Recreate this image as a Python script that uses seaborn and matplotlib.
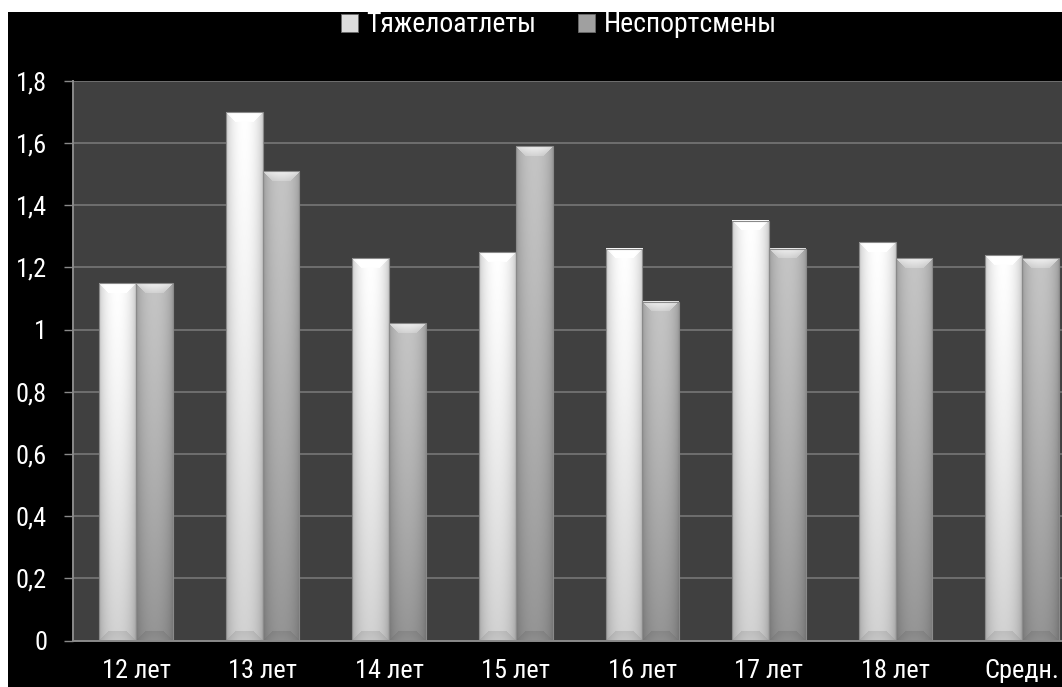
import numpy as np
import pandas as pd
import matplotlib
matplotlib.use("Agg")
import matplotlib.pyplot as plt
from matplotlib.patches import Rectangle
from matplotlib import font_manager
import seaborn as sns

# Chart data
ages = ["12 лет", "13 лет", "14 лет", "15 лет", "16 лет", "17 лет", "18 лет", "Средн."]
series_names = ["Тяжелоатлеты", "Неспортсмены"]
weightlifters = [1.15, 1.70, 1.23, 1.25, 1.26, 1.35, 1.28, 1.24]
non_athletes = [1.15, 1.51, 1.02, 1.59, 1.09, 1.26, 1.23, 1.23]
y_ticks = [0, 0.2, 0.4, 0.6, 0.8, 1.0, 1.2, 1.4, 1.6, 1.8]
y_tick_labels = ["0", "0,2", "0,4", "0,6", "0,8", "1", "1,2", "1,4", "1,6", "1,8"]

df = pd.DataFrame({
    "age": ages * 2,
    "value": weightlifters + non_athletes,
    "group": [series_names[0]] * len(ages) + [series_names[1]] * len(ages),
})

sns.set_theme(style="dark")
installed = {f.name for f in font_manager.fontManager.ttflist}
narrow = [n for n in ["Liberation Sans Narrow", "DejaVu Sans Condensed", "Roboto Condensed",
                      "Open Sans Condensed", "Liberation Sans"] if n in installed]
main_font = narrow[0] if narrow else "DejaVu Sans"
plt.rcParams["font.family"] = [main_font, "DejaVu Sans"]
is_narrow = main_font in ("Liberation Sans Narrow", "DejaVu Sans Condensed",
                          "Roboto Condensed", "Open Sans Condensed")
FS = 19 if is_narrow else 16.5
FS_LEG = 20 if is_narrow else 17

W_PX, H_PX, DPI = 1062, 687, 100
fig = plt.figure(figsize=(W_PX / DPI, H_PX / DPI), dpi=DPI)
fig.patch.set_facecolor("white")
# black canvas with a thin white margin on the top and left
fig.patches.append(Rectangle((8 / W_PX, 0), 1, 1 - 12 / H_PX,
                             transform=fig.transFigure, facecolor="black",
                             edgecolor="none", zorder=-10))

ax_left, ax_bottom = 72.7 / W_PX, 46.3 / H_PX
ax_w, ax_h = (8 * 126.6) / W_PX, (640.7 - 80.7) / H_PX
ax = fig.add_axes([ax_left, ax_bottom, ax_w, ax_h])
ax.set_facecolor("#404040")

# shading: (top value, bottom value) per series
shades = [(1.0, 0.82), (0.77, 0.58)]
legend_colors = ["#dcdcdc", "#a0a0a0"]

sns.barplot(data=df, x="age", y="value", hue="group", order=ages,
            hue_order=series_names, palette=legend_colors, saturation=1,
            width=0.58, ax=ax, legend=True)

ax.set_xlim(-0.5, len(ages) - 0.5)
ax.set_ylim(0, 1.8)


def bar_image(wp, hp, top_v, bot_v, bevel):
    j = np.arange(wp)
    i = np.arange(hp)
    xx = (j + 0.5) / wp
    profile = 0.74 + 0.26 * np.sin(np.pi * xx) ** 0.5
    t = (i / max(hp - 1, 1)) ** 1.3
    base = top_v * (1 - t) + bot_v * t
    img = base[:, None] * profile[None, :]
    jj, ii = np.meshgrid(j, i)
    side = np.minimum(jj, wp - 1 - jj)
    dt, db = ii, hp - 1 - ii
    top_mask = (dt < bevel) & (dt <= side)
    bot_mask = (db < bevel) & (db <= side) & ~top_mask
    lift = (1 - dt / bevel) * 0.25
    img = np.where(top_mask, np.clip(img + lift * (1.0 - img) * 2.0 + 0.05, 0, 1), img)
    img = np.where(bot_mask, img * 0.90 + 0.04 * (1 - db / bevel), img)
    img = np.clip(img, 0, 1)
    return np.dstack([img, img, img])


fig.canvas.draw()
for k, container in enumerate(ax.containers):
    top_v, bot_v = shades[k]
    for patch in container.patches:
        x0, w, h = patch.get_x(), patch.get_width(), patch.get_height()
        p0 = ax.transData.transform((x0, 0))
        p1 = ax.transData.transform((x0 + w, h))
        wp = max(int(round(p1[0] - p0[0])), 2)
        hp = max(int(round(p1[1] - p0[1])), 2)
        img = bar_image(wp, hp, top_v, bot_v, bevel=10)
        ax.imshow(img, extent=[x0, x0 + w, 0, h], aspect="auto",
                  interpolation="bilinear", zorder=2.5)
        patch.set_facecolor("none")
        patch.set_edgecolor("#8a8a8a")
        patch.set_linewidth(0.8)
        patch.set_zorder(3)

ax.set_xlim(-0.5, len(ages) - 0.5)
ax.set_ylim(0, 1.8)

# grid and axes
ax.set_axisbelow(True)
ax.grid(False)
ax.yaxis.grid(True, color="#7c7c7c", linewidth=1.1)
ax.set_yticks(y_ticks)
ax.set_yticklabels(y_tick_labels)
ax.set_xticks(range(len(ages)))
ax.set_xticklabels(ages)
ax.set_xticks(np.arange(-0.5, len(ages) - 0.4, 1.0), minor=True)
ax.tick_params(axis="x", which="major", length=0, pad=13.5, labelsize=FS, labelcolor="white")
ax.tick_params(axis="x", which="minor", length=7.5, width=1.0, color="#8a8a8a", direction="out")
ax.tick_params(axis="y", which="major", length=6.5, width=1.0, color="#8a8a8a",
               pad=12, labelsize=FS, labelcolor="white", direction="out", left=True)
ax.set_xlabel("")
ax.set_ylabel("")
for side in ["top", "right"]:
    ax.spines[side].set_visible(False)
for side in ["left", "bottom"]:
    ax.spines[side].set_visible(True)
    ax.spines[side].set_color("#8a8a8a")
    ax.spines[side].set_linewidth(1.4)

# legend across the top
handles, labels = ax.get_legend_handles_labels()
ax.get_legend().remove()
for h, c in zip(handles, legend_colors):
    h.set_facecolor(c)
    h.set_edgecolor("#6a6a6a")
    h.set_linewidth(0.6)
leg = fig.legend(handles, labels, loc="center", bbox_to_anchor=(0.526, 1 - 25 / H_PX),
                 ncol=2, frameon=False, fontsize=FS_LEG, handlelength=0.62,
                 handleheight=0.62, handletextpad=0.3, columnspacing=1.5,
                 borderaxespad=0, borderpad=0)
for txt in leg.get_texts():
    txt.set_color("white")

fig.savefig("out.png", dpi=DPI, facecolor=fig.get_facecolor())
